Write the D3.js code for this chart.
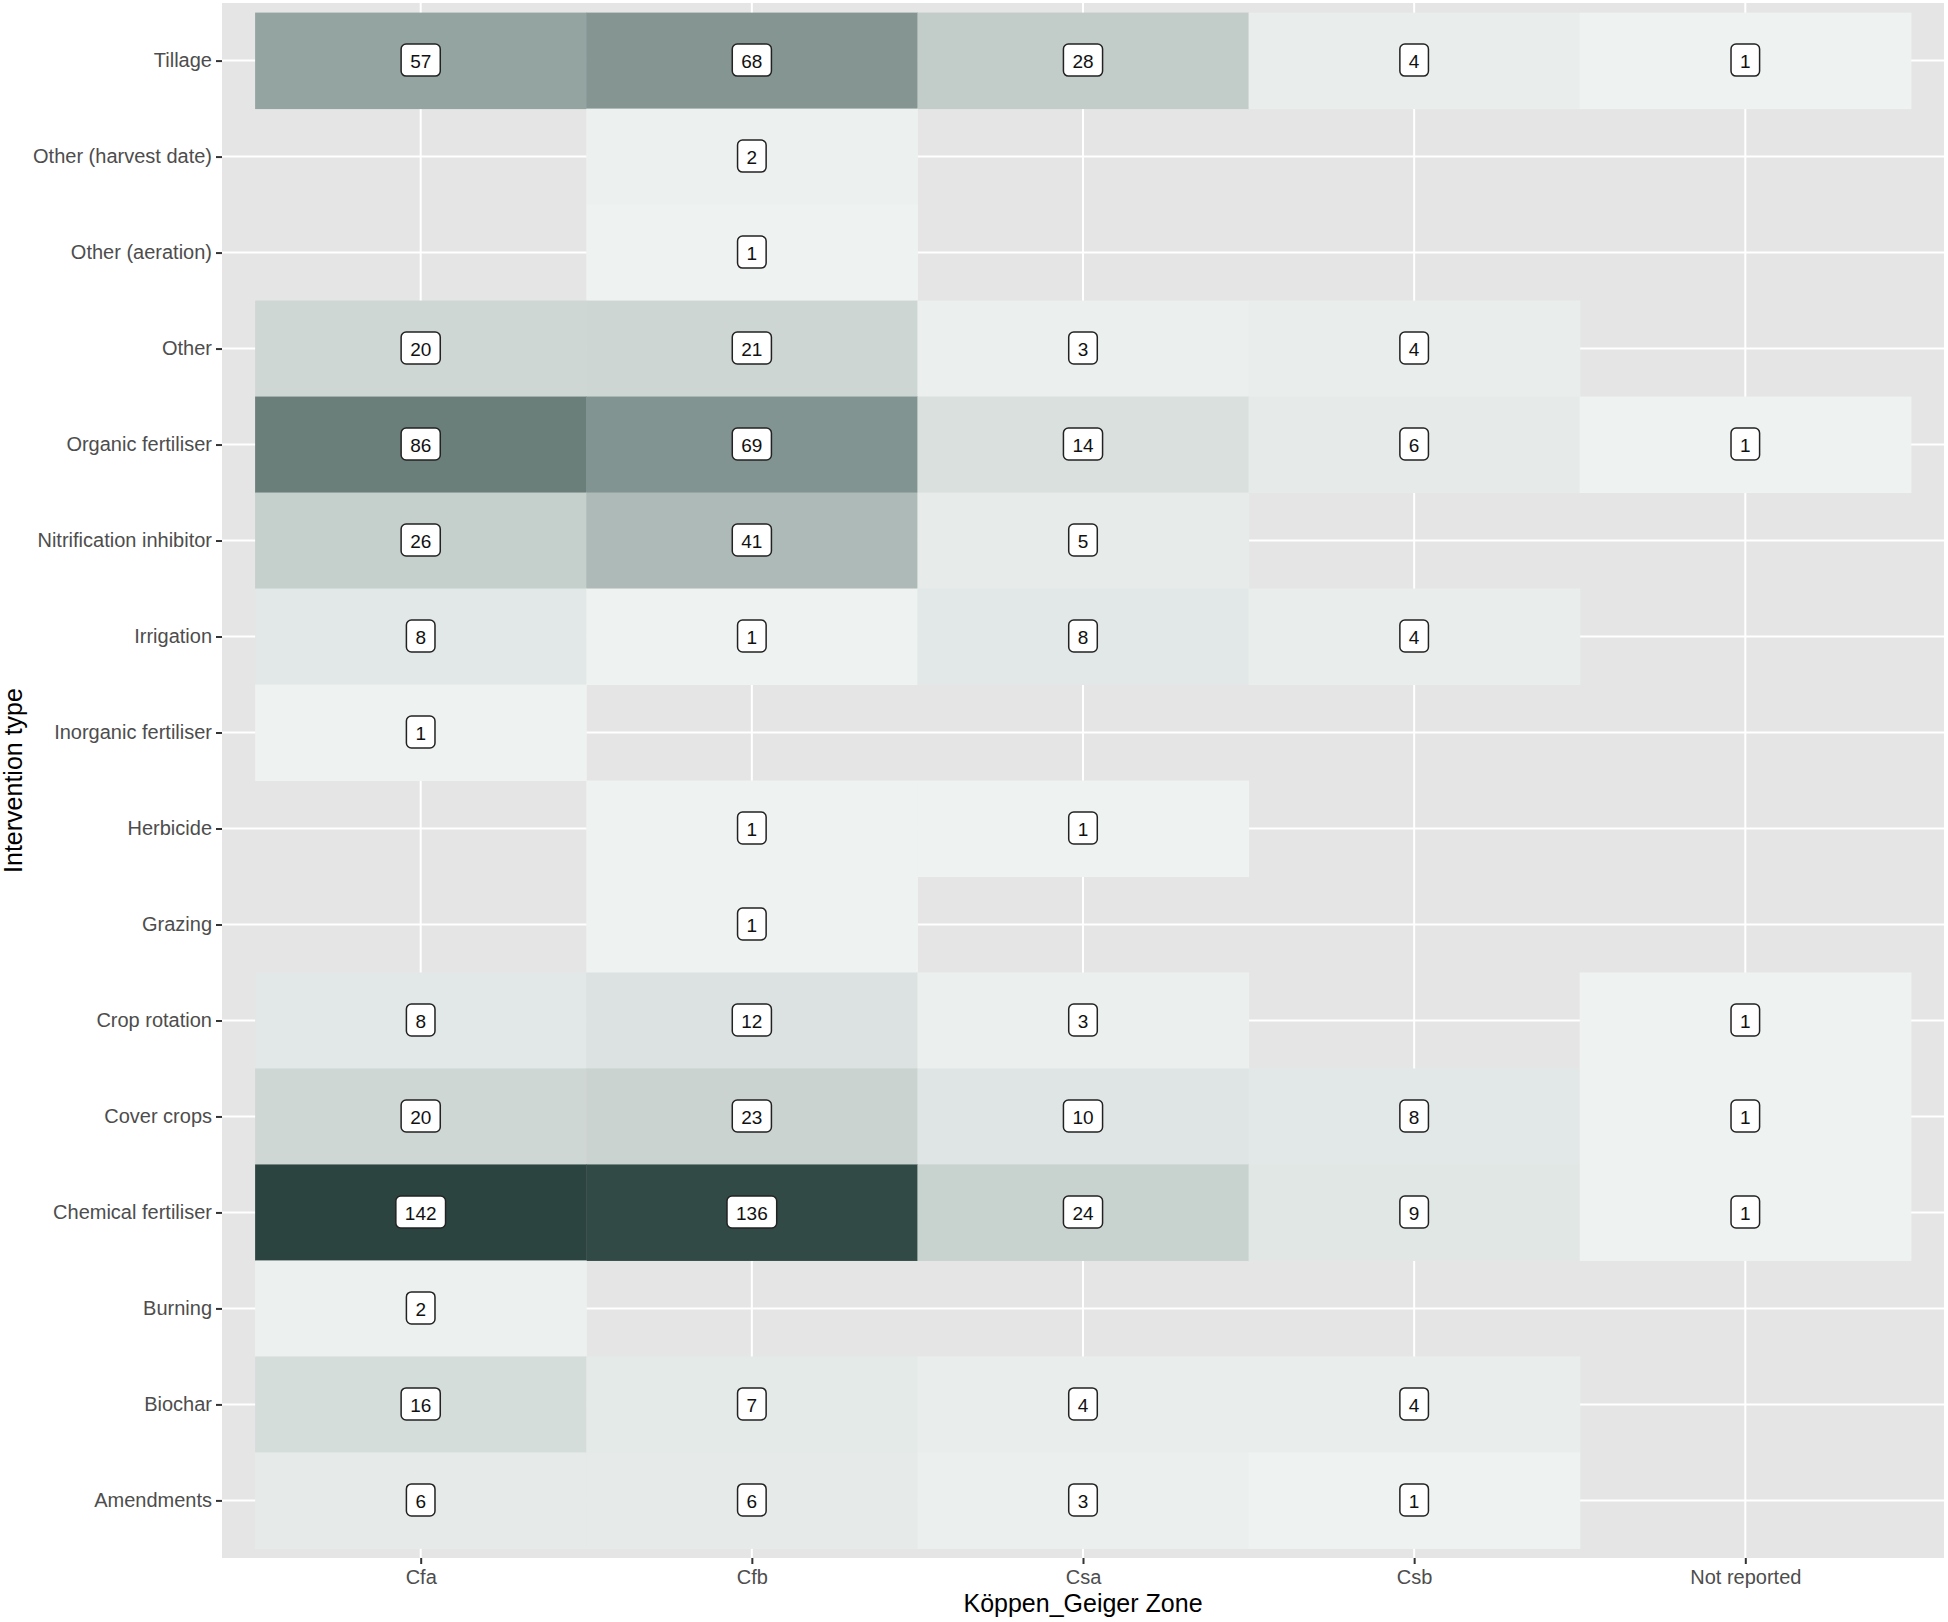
<!DOCTYPE html>
<html>
<head>
<meta charset="utf-8">
<script src="https://cdn.jsdelivr.net/npm/d3@7"></script>
<style>
  html, body { margin: 0; padding: 0; background: #ffffff; }
  svg { display: block; font-family: "Liberation Sans", Arial, Helvetica, sans-serif; }
</style>
</head>
<body>
<svg id="chart" width="1948" height="1622"></svg>
<script>
// ---- Data ----
const zones = ["Cfa", "Cfb", "Csa", "Csb", "Not reported"];
// top to bottom as displayed
const interventions = [
  "Tillage", "Other (harvest date)", "Other (aeration)", "Other",
  "Organic fertiliser", "Nitrification inhibitor", "Irrigation",
  "Inorganic fertiliser", "Herbicide", "Grazing", "Crop rotation",
  "Cover crops", "Chemical fertiliser", "Burning", "Biochar", "Amendments"
];
// counts per intervention, ordered as zones; null = no study
const tillage              = [57, 68, 28, 4, 1];
const otherHarvestDate     = [null, 2, null, null, null];
const otherAeration        = [null, 1, null, null, null];
const other                = [20, 21, 3, 4, null];
const organicFertiliser    = [86, 69, 14, 6, 1];
const nitrificationInhib   = [26, 41, 5, null, null];
const irrigation           = [8, 1, 8, 4, null];
const inorganicFertiliser  = [1, null, null, null, null];
const herbicide            = [null, 1, 1, null, null];
const grazing              = [null, 1, null, null, null];
const cropRotation         = [8, 12, 3, null, 1];
const coverCrops           = [20, 23, 10, 8, 1];
const chemicalFertiliser   = [142, 136, 24, 9, 1];
const burning              = [2, null, null, null, null];
const biochar              = [16, 7, 4, 4, null];
const amendments           = [6, 6, 3, 1, null];

const seriesRows = [tillage, otherHarvestDate, otherAeration, other, organicFertiliser,
  nitrificationInhib, irrigation, inorganicFertiliser, herbicide, grazing, cropRotation,
  coverCrops, chemicalFertiliser, burning, biochar, amendments];

const xTitle = "Köppen_Geiger Zone";
const yTitle = "Intervention type";

// colour ramp stops (count -> fill)
const colourStops = [1, 26, 57, 86, 142];
const colourRange = ["#eef2f1", "#c5cfcc", "#94a4a1", "#6a7e7a", "#2c4440"];

const cells = [];
interventions.forEach((iv, r) => {
  zones.forEach((z, c) => {
    const v = seriesRows[r][c];
    if (v !== null) cells.push({ intervention: iv, zone: z, value: v });
  });
});

// ---- Layout ----
const svg = d3.select("#chart");
const panel = { left: 222, right: 1944, top: 3, bottom: 1558 };

const x = d3.scalePoint().domain(zones).range([panel.left, panel.right]).padding(0.6);
const y = d3.scalePoint().domain(interventions).range([panel.top, panel.bottom]).padding(0.6);
const tileW = x.step(), tileH = y.step();

const color = d3.scaleLinear()
  .domain(colourStops)
  .range(colourRange)
  .interpolate(d3.interpolateLab);

// panel background
svg.append("rect")
  .attr("x", panel.left).attr("y", panel.top)
  .attr("width", panel.right - panel.left).attr("height", panel.bottom - panel.top)
  .attr("fill", "#e5e5e5");

// grid lines
const grid = svg.append("g");
grid.selectAll("line.gx").data(zones).join("line")
  .attr("x1", d => x(d)).attr("x2", d => x(d))
  .attr("y1", panel.top).attr("y2", panel.bottom)
  .attr("stroke", "#ffffff").attr("stroke-width", 2);
grid.selectAll("line.gy").data(interventions).join("line")
  .attr("y1", d => y(d)).attr("y2", d => y(d))
  .attr("x1", panel.left).attr("x2", panel.right)
  .attr("stroke", "#ffffff").attr("stroke-width", 2);

// tiles
svg.append("g").selectAll("rect").data(cells).join("rect")
  .attr("x", d => x(d.zone) - tileW / 2)
  .attr("y", d => y(d.intervention) - tileH / 2)
  .attr("width", tileW + 0.5)
  .attr("height", tileH + 0.5)
  .attr("fill", d => color(d.value));

// labels
const fontSize = 19;
const lab = svg.append("g").selectAll("g").data(cells).join("g")
  .attr("transform", d => `translate(${x(d.zone)},${y(d.intervention)})`);
lab.each(function(d) {
  const g = d3.select(this);
  const t = g.append("text")
    .attr("text-anchor", "middle")
    .attr("dominant-baseline", "central")
    .attr("font-size", fontSize)
    .attr("fill", "#111111")
    .text(d.value);
  const w = t.node().getComputedTextLength() + 18;
  const h = 32;
  g.insert("rect", "text")
    .attr("x", -w / 2).attr("y", -h / 2 - 0.5)
    .attr("width", w).attr("height", h)
    .attr("rx", 5).attr("ry", 5)
    .attr("fill", "#ffffff")
    .attr("stroke", "#222222")
    .attr("stroke-width", 1.5);
  t.attr("y", 1);
});

// axes
const xAxis = d3.axisBottom(x).tickSize(6).tickPadding(6);
const gx = svg.append("g").attr("transform", `translate(0,${panel.bottom})`).call(xAxis);
gx.select(".domain").remove();
gx.selectAll(".tick line").attr("stroke", "#333333").attr("stroke-width", 2);
gx.selectAll(".tick text").attr("font-size", 20).attr("fill", "#4d4d4d")
  .attr("font-family", "'Liberation Sans', Arial, Helvetica, sans-serif");

const yAxis = d3.axisLeft(y).tickSize(6).tickPadding(4);
const gy = svg.append("g").attr("transform", `translate(${panel.left},0)`).call(yAxis);
gy.select(".domain").remove();
gy.selectAll(".tick line").attr("stroke", "#333333").attr("stroke-width", 2);
gy.selectAll(".tick text").attr("font-size", 20).attr("fill", "#4d4d4d")
  .attr("font-family", "'Liberation Sans', Arial, Helvetica, sans-serif");

// titles
svg.append("text")
  .attr("x", (panel.left + panel.right) / 2).attr("y", 1612)
  .attr("text-anchor", "middle").attr("font-size", 25).attr("fill", "#000000")
  .text(xTitle);
svg.append("text")
  .attr("transform", `translate(22,${(panel.top + panel.bottom) / 2}) rotate(-90)`)
  .attr("text-anchor", "middle").attr("font-size", 25).attr("fill", "#000000")
  .text(yTitle);
</script>
</body>
</html>
